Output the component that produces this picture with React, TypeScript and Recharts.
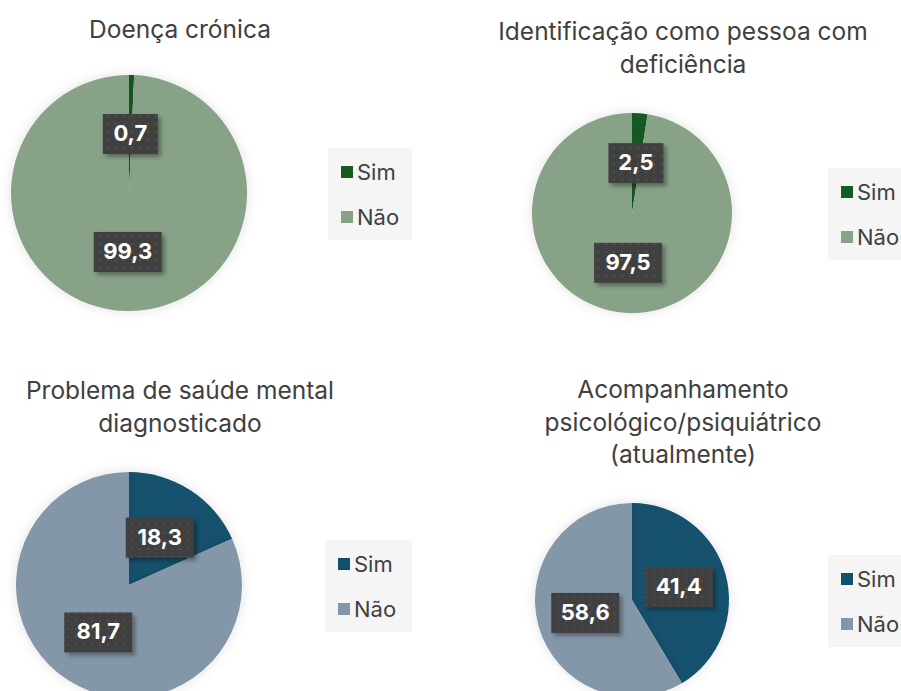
import React from "react"
import { PieChart, Pie, Cell } from "recharts"

// data (percentages)
const categories = ["Sim", "Não"]
const doencaCronica = [0.7, 99.3]
const deficiencia = [2.5, 97.5]
const saudeMental = [18.3, 81.7]
const acompanhamento = [41.4, 58.6]

const greenColors = ["#165c21", "#87a287"]
const blueColors = ["#12516e", "#8497a9"]

const FONT = "Inter, 'Noto Sans', sans-serif"
const RADIAN = Math.PI / 180

const toRows = (values: number[]) =>
  categories.map((name, i) => ({ name, value: values[i] }))

function ValueLabel(props: any) {
  const { cx, cy, midAngle, outerRadius, value, index, chartId } = props
  const r = outerRadius * 0.5
  const x = cx + r * Math.cos(-midAngle * RADIAN)
  const y = cy + r * Math.sin(-midAngle * RADIAN)
  const text = Number(value).toFixed(1).replace(".", ",")
  const w = text.length * 13 + 16
  const h = 40
  return (
    <g key={`lbl-${index}`}>
      <rect
        x={x - w / 2}
        y={y - h / 2}
        width={w}
        height={h}
        fill={`url(#dots-${chartId})`}
        filter={`url(#boxShadow-${chartId})`}
      />
      <text
        x={x}
        y={y + 1}
        textAnchor="middle"
        dominantBaseline="middle"
        fill="#ffffff"
        fontFamily={FONT}
        fontWeight={700}
        fontSize={22}
      >
        {text}
      </text>
    </g>
  )
}

type PanelProps = {
  id: string
  left: number
  top: number
  width: number
  height: number
  title: string[]
  titleTop: number
  titleCenter: number
  values: number[]
  colors: string[]
  cx: number
  cy: number
  radius: number
  legendLeft: number
  legendTop: number
  legendWidth: number
}

function PiePanel(p: PanelProps) {
  const rows = toRows(p.values)
  return (
    <div
      style={{
        position: "absolute",
        left: p.left,
        top: p.top,
        width: p.width,
        height: p.height,
        overflow: "hidden",
      }}
    >
      <div
        style={{
          position: "absolute",
          left: p.titleCenter - 250,
          top: p.titleTop,
          width: 500,
          textAlign: "center",
          fontFamily: FONT,
          fontSize: 24.5,
          lineHeight: "32.5px",
          color: "#404040",
          zIndex: 2,
          whiteSpace: "nowrap",
        }}
      >
        {p.title.map((t) => (
          <div key={t}>{t}</div>
        ))}
      </div>
      <PieChart
        width={p.width}
        height={p.height}
        margin={{ top: 0, right: 0, bottom: 0, left: 0 }}
        style={{ position: "absolute", left: 0, top: 0 }}
      >
        <defs>
          <pattern id={`dots-${p.id}`} width="8" height="8" patternUnits="userSpaceOnUse">
            <rect width="8" height="8" fill="#404040" />
            <circle cx="4" cy="4" r="1" fill="#555555" />
          </pattern>
          <filter id={`boxShadow-${p.id}`} x="-30%" y="-30%" width="160%" height="160%">
            <feDropShadow dx="3" dy="3" stdDeviation="2" floodColor="#000" floodOpacity="0.35" />
          </filter>
          <filter id={`pieShadow-${p.id}`} x="-20%" y="-20%" width="140%" height="140%">
            <feDropShadow dx="0" dy="0" stdDeviation="6" floodColor="#000" floodOpacity="0.12" />
          </filter>
        </defs>
        <Pie
          data={rows}
          dataKey="value"
          nameKey="name"
          cx={p.cx}
          cy={p.cy}
          outerRadius={p.radius}
          startAngle={90}
          endAngle={-270}
          stroke="none"
          labelLine={false}
          label={(lp: any) => <ValueLabel {...lp} chartId={p.id} />}
          isAnimationActive={false}
        >
          {rows.map((r, i) => (
            <Cell key={r.name} fill={p.colors[i]} filter={`url(#pieShadow-${p.id})`} />
          ))}
        </Pie>
      </PieChart>
      <div
        style={{
          position: "absolute",
          left: p.legendLeft,
          top: p.legendTop,
          width: p.legendWidth,
          height: 92,
          background: "#f5f5f5",
          fontFamily: FONT,
          fontSize: 22,
          color: "#404040",
          boxSizing: "border-box",
          paddingLeft: 13,
          paddingTop: 1,
        }}
      >
        {rows.map((r, i) => (
          <div key={r.name} style={{ display: "flex", alignItems: "center", height: 45 }}>
            <span
              style={{
                display: "inline-block",
                width: 12,
                height: 12,
                background: p.colors[i],
                marginRight: 4,
              }}
            />
            <span>{r.name}</span>
          </div>
        ))}
      </div>
    </div>
  )
}

export default function App() {
  return (
    <div
      style={{
        position: "absolute",
        left: 0,
        top: 0,
        width: 901,
        height: 691,
        overflow: "hidden",
        background: "#ffffff",
      }}
    >
      <PiePanel
        id="a"
        left={0}
        top={0}
        width={450}
        height={345}
        title={["Doença crónica"]}
        titleTop={13}
        titleCenter={180}
        values={doencaCronica}
        colors={greenColors}
        cx={129}
        cy={193}
        radius={118}
        legendLeft={328}
        legendTop={148}
        legendWidth={84}
      />
      <PiePanel
        id="b"
        left={450}
        top={0}
        width={451}
        height={345}
        title={["Identificação como pessoa com", "deficiência"]}
        titleTop={15}
        titleCenter={233}
        values={deficiencia}
        colors={greenColors}
        cx={182}
        cy={213}
        radius={100}
        legendLeft={378}
        legendTop={168}
        legendWidth={84}
      />
      <PiePanel
        id="c"
        left={0}
        top={345}
        width={450}
        height={346}
        title={["Problema de saúde mental", "diagnosticado"]}
        titleTop={29}
        titleCenter={180}
        values={saudeMental}
        colors={blueColors}
        cx={129}
        cy={240}
        radius={113}
        legendLeft={325}
        legendTop={195}
        legendWidth={87}
      />
      <PiePanel
        id="d"
        left={450}
        top={345}
        width={451}
        height={346}
        title={["Acompanhamento", "psicológico/psiquiátrico", "(atualmente)"]}
        titleTop={28}
        titleCenter={233}
        values={acompanhamento}
        colors={blueColors}
        cx={182}
        cy={255}
        radius={97}
        legendLeft={378}
        legendTop={210}
        legendWidth={84}
      />
    </div>
  )
}
